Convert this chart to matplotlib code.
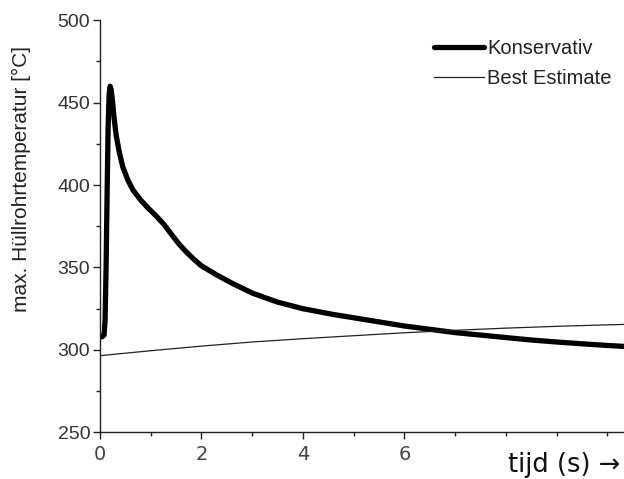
import matplotlib
matplotlib.use("Agg")
import matplotlib.pyplot as plt
from matplotlib.ticker import MultipleLocator

# Data
t_kons = [0.0, 0.04, 0.08, 0.10, 0.12, 0.14, 0.16, 0.18, 0.20, 0.22, 0.25, 0.28,
          0.32, 0.38, 0.45, 0.55, 0.65, 0.8, 0.95, 1.1, 1.25, 1.4, 1.55, 1.7,
          1.85, 2.0, 2.3, 2.6, 3.0, 3.5, 4.0, 4.6, 5.3, 6.0, 6.5, 7.0, 7.5,
          8.0, 8.5, 9.0, 9.5, 10.0, 10.4]
temp_kons = [308, 308, 309, 318, 350, 395, 435, 455, 460, 458, 450, 440,
             430, 420, 411, 403, 397, 391, 386, 381.5, 376.5, 370.5, 364.5, 359.5,
             355, 351, 345.5, 340.5, 334.5, 329, 325, 321.5, 318, 314.5, 312.5, 310.5, 309,
             307.5, 306, 304.8, 303.7, 302.7, 302]

t_best = [0, 1, 2, 3, 4, 5, 6, 7, 8, 9, 10, 10.4]
temp_best = [296.5, 299.5, 302.3, 304.8, 306.8, 308.6, 310.4, 311.9, 313.2, 314.3, 315.2, 315.5]

xticks = [0, 2, 4, 6]
yticks = [250, 300, 350, 400, 450, 500]

fig = plt.figure(figsize=(6.24, 4.79), dpi=100)
ax = fig.add_axes([100/624, 46.7/479, 524/624, 412/479])

ax.plot(t_kons, temp_kons, color="black", lw=3.8, label="Konservativ",
        solid_joinstyle="round", solid_capstyle="round")
ax.plot(t_best, temp_best, color="#222222", lw=0.9, label="Best Estimate")

ax.set_xlim(0, 10.33)
ax.set_ylim(250, 500)
ax.set_xticks(xticks)
ax.xaxis.set_minor_locator(MultipleLocator(1))
ax.set_yticks(yticks)
ax.yaxis.set_minor_locator(MultipleLocator(25))

for s in ["top", "right"]:
    ax.spines[s].set_visible(False)
for s in ["left", "bottom"]:
    ax.spines[s].set_color("#222222")
    ax.spines[s].set_linewidth(1.0)

ax.tick_params(axis="both", which="major", direction="out", length=5, width=1, color="#222222")
ax.tick_params(axis="both", which="minor", direction="out", length=3, width=1, color="#222222")
ax.tick_params(axis="y", labelsize=14, labelcolor="#333333", pad=2)
ax.tick_params(axis="x", labelsize=14, labelcolor="#444444", pad=4)
for lab in ax.get_yticklabels():
    lab.set_family("Liberation Sans")
for lab in ax.get_xticklabels():
    lab.set_family("DejaVu Sans")

fig.text(21/624, 1 - 179/479, "max. Hüllrohrtemperatur [°C]", rotation=90,
         ha="center", va="center", fontsize=15, family="Liberation Sans",
         color="#222222")

leg = ax.legend(loc="upper right", bbox_to_anchor=(1.0, 0.983), frameon=False,
                prop={"family": "Liberation Sans", "size": 14.5},
                handlelength=2.5, handletextpad=0.15, labelspacing=0.55,
                borderaxespad=0.2)
for txt in leg.get_texts():
    txt.set_color("#222222")

fig.text(620/624, 1 - 465/479, "tijd (s) →", ha="right", va="center",
         fontsize=18.5, family="DejaVu Sans", color="#111111")

fig.savefig("out.png", dpi=100)
